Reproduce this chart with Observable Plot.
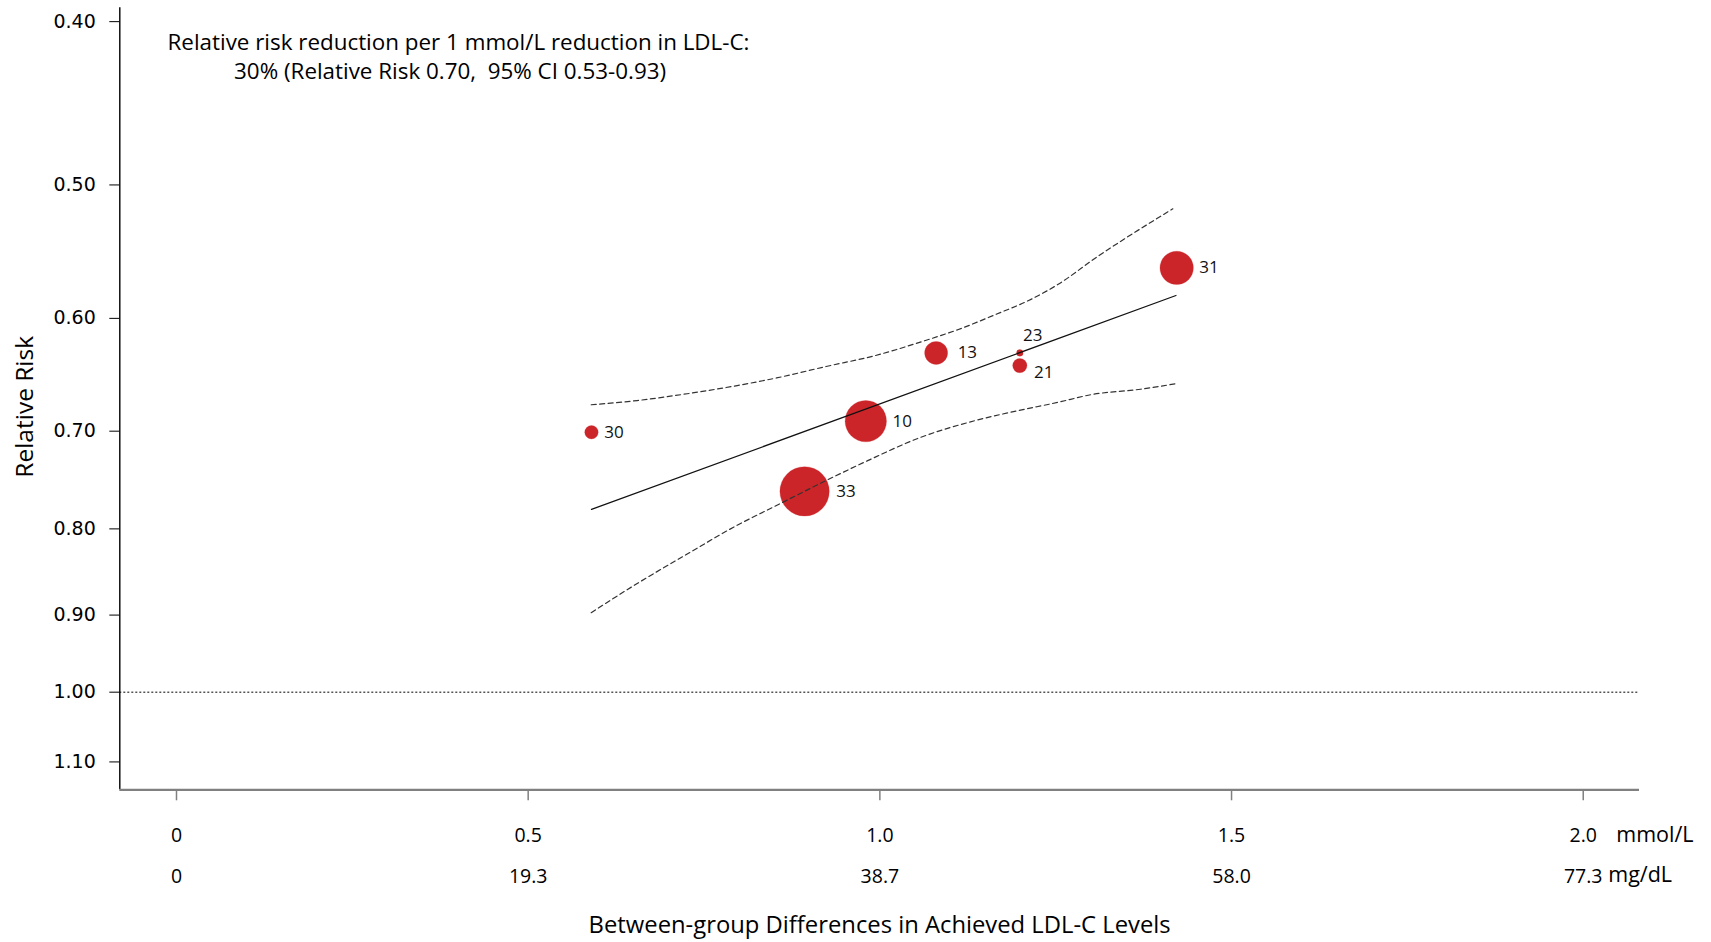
<!DOCTYPE html>
<html>
<head>
<meta charset="utf-8">
<script src="https://cdn.jsdelivr.net/npm/d3@7"></script>
<script src="https://cdn.jsdelivr.net/npm/@observablehq/plot@0.6"></script>
<style>
  html, body { margin: 0; padding: 0; background: #ffffff; }
  #chart svg { display: block; }
</style>
</head>
<body>
<div id="chart"></div>
<script>
// ---------- data ----------
const studyIds   = ["30", "33", "10", "13", "23", "21", "31"];
const ldlDiff    = [0.590, 0.893, 0.980, 1.080, 1.199, 1.199, 1.422];   // mmol/L
const relRisk    = [0.701, 0.760, 0.6905, 0.629, 0.629, 0.640, 0.560];
const weightPct  = [2.9, 39.2, 27.5, 8.5, 0.7, 3.3, 17.9];

const fitX  = [0.590, 1.421];
const fitRR = [0.779, 0.5815];

const ciUpperX  = [0.5896, 0.6550, 0.7261, 0.7972, 0.8531, 0.9236, 0.9941, 1.0648, 1.1117, 1.1647, 1.2116, 1.2529, 1.3117, 1.3422, 1.4165];
const ciUpperRR = [0.6752, 0.6713, 0.6651, 0.6577, 0.6509, 0.6408, 0.6312, 0.6184, 0.6092, 0.5968, 0.5855, 0.5729, 0.5506, 0.5401, 0.5166];
const ciLowerX  = [0.5896, 0.6550, 0.7261, 0.7972, 0.8445, 0.9345, 0.9820, 1.0578, 1.1353, 1.1940, 1.2529, 1.2999, 1.3706, 1.4214];
const ciLowerRR = [0.897, 0.862, 0.828, 0.796, 0.778, 0.745, 0.729, 0.706, 0.690, 0.681, 0.673, 0.666, 0.661, 0.656];

const yTicks      = [0.40, 0.50, 0.60, 0.70, 0.80, 0.90, 1.00, 1.10];
const xTicks      = [0, 0.5, 1.0, 1.5, 2.0];
const mmolLabels  = ["0", "0.5", "1.0", "1.5", "2.0"];
const mgdlLabels  = ["0", "19.3", "38.7", "58.0", "77.3"];
const unitLabels  = ["mmol/L", "mg/dL"];
const refRR       = [1.00];

const noteLines = [
  "Relative risk reduction per 1 mmol/L reduction in LDL-C:",
  "30% (Relative Risk 0.70,\u00a0 95% CI 0.53-0.93)"
];
const xTitle = "Between-group Differences in Achieved LDL-C Levels";
const yTitle = "Relative Risk";

// ---------- tables ----------
const studies = studyIds.map((id, i) => ({id, x: ldlDiff[i], rr: relRisk[i], w: weightPct[i]}));
const fitLine = fitX.map((x, i) => ({x, rr: fitRR[i]}));
const ciUpper = ciUpperX.map((x, i) => ({x, rr: ciUpperRR[i]}));
const ciLower = ciLowerX.map((x, i) => ({x, rr: ciLowerRR[i]}));

// ---------- layout / style ----------
const W = 1711, H = 942;
const xDomain = [-0.0806, 2.080];
const yDomain = [0.3925, 1.1427];
const rOpts = {type: "sqrt", domain: [0, d3.max(weightPct)], range: [0, 24.7]};
const rScale = Plot.scale({r: rOpts});
const RED = "#cc2529";
const SANS = "Open Sans, Lato, sans-serif";

const labelStyle = {
  "23": {textAnchor: "middle", dx: 13, dy: -17},
  "21": {gap: 7, dy: 7},
  "13": {gap: 10},
  "33": {gap: 7}
};

const labelMarks = studies.map(d => {
  const s = labelStyle[d.id] || {};
  const r = rScale.apply(d.w);
  return Plot.text([d], {
    x: "x", y: "rr", text: "id",
    textAnchor: s.textAnchor || "start",
    dx: s.dx !== undefined ? s.dx : r + (s.gap || 6),
    dy: s.dy || 0,
    fontSize: 17, fontFamily: SANS, fill: "#111"
  });
});

const chart = Plot.plot({
  width: W, height: H,
  marginLeft: 119.3, marginRight: 72, marginTop: 7.3, marginBottom: 152.7,
  style: {background: "#ffffff", color: "#000000", overflow: "visible"},
  x: {domain: xDomain},
  y: {type: "log", domain: yDomain, reverse: true},
  r: rOpts,
  marks: [
    // reference line at RR 1.00
    Plot.ruleY(refRR, {stroke: "#000", strokeWidth: 1, strokeDasharray: "2,2"}),
    // axes lines
    Plot.ruleX([xDomain[0]], {stroke: "#000", strokeWidth: 1.4}),
    Plot.ruleY([yDomain[1]], {stroke: "#808080", strokeWidth: 2.2}),
    // y axis
    Plot.axisY({ticks: yTicks, tickSize: 10, tickPadding: 14, tickFormat: d3.format(".2f"),
      fontSize: 19, fontFamily: "DejaVu Sans, Verdana, sans-serif", stroke: "#000", fill: "#000", label: null}),
    // x axis, mmol/L row
    Plot.axisX({ticks: xTicks, tickSize: 11, tickPadding: 27.5,
      tickFormat: d => mmolLabels[xTicks.indexOf(d)],
      fontSize: 19.5, fontFamily: SANS, stroke: "#808080", strokeWidth: 1.5, fill: "#000", label: null}),
    // x axis, mg/dL row
    Plot.axisX({ticks: xTicks, tickSize: 0, tickPadding: 79,
      tickFormat: d => mgdlLabels[xTicks.indexOf(d)],
      fontSize: 19.5, fontFamily: SANS, stroke: "none", fill: "#000", label: null}),
    // unit labels after last tick
    Plot.text([unitLabels[0]], {x: () => xTicks[xTicks.length - 1], frameAnchor: "bottom", lineAnchor: "middle",
      dx: 33, dy: 45.4, textAnchor: "start", fontSize: 21.5, fontFamily: SANS, fill: "#000"}),
    Plot.text([unitLabels[1]], {x: () => xTicks[xTicks.length - 1], frameAnchor: "bottom", lineAnchor: "middle",
      dx: 25, dy: 85.8, textAnchor: "start", fontSize: 21.5, fontFamily: SANS, fill: "#000"}),
    // axis titles
    Plot.text([xTitle], {frameAnchor: "bottom", lineAnchor: "middle", textAnchor: "middle", dy: 136,
      fontSize: 23.8, fontFamily: SANS, fill: "#000"}),
    Plot.text([yTitle], {frameAnchor: "left", rotate: -90, textAnchor: "middle", lineAnchor: "middle",
      dx: -95, dy: 8, fontSize: 24.5, fontFamily: SANS, fill: "#000"}),
    // bubbles
    Plot.dot(studies, {x: "x", y: "rr", r: "w", fill: RED, stroke: RED, strokeWidth: 0.5, strokeOpacity: 0.5}),
    // regression and confidence curves
    Plot.line(fitLine, {x: "x", y: "rr", stroke: "#111", strokeWidth: 1.2}),
    Plot.line(ciUpper, {x: "x", y: "rr", stroke: "#333", strokeWidth: 1.2, strokeDasharray: "5,3.5", curve: "monotone-x"}),
    Plot.line(ciLower, {x: "x", y: "rr", stroke: "#333", strokeWidth: 1.2, strokeDasharray: "5,3.5", curve: "monotone-x"}),
    // study labels
    ...labelMarks,
    // annotation
    Plot.text([noteLines[0]], {frameAnchor: "top-left", lineAnchor: "middle", dx: 338.7, dy: 35.2, textAnchor: "middle",
      fontSize: 22.4, fontFamily: SANS, fill: "#000"}),
    Plot.text([noteLines[1]], {frameAnchor: "top-left", lineAnchor: "middle", dx: 330.3, dy: 63.7, textAnchor: "middle",
      fontSize: 22.4, fontFamily: SANS, fill: "#000"})
  ]
});
document.getElementById("chart").appendChild(chart);
</script>
</body>
</html>
